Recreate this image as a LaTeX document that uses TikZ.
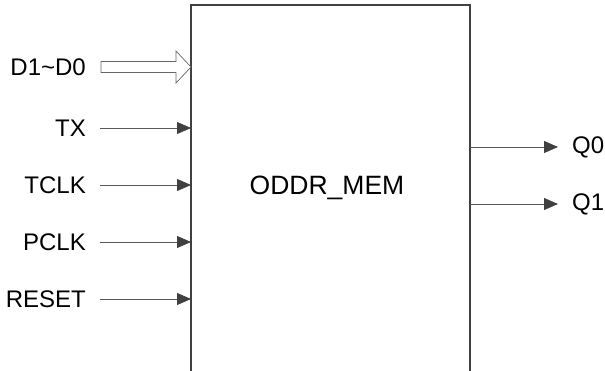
\documentclass[tikz,border=0pt]{standalone}
\usepackage{fontspec}
\setmainfont{Liberation Sans}
\usetikzlibrary{arrows.meta}

\tikzset{
    pin/.style={font=\fontsize{24}{28}\selectfont, inner sep=0pt},
    sig/.style={draw=black!65, line width=0.9pt, -{Triangle[length=14pt,width=12pt,fill=black!75,color=black!75]}},
    bus/.style={draw=black!60, line width=0.7pt, fill=white},
}

\begin{document}
\begin{tikzpicture}[x=1pt, y=-1pt]
    \useasboundingbox (0,0) rectangle (605,370);
    \clip (0,0) rectangle (605,370);

    % block, open at the bottom
    \node[draw=black!75, line width=1.2pt, outer sep=0pt, minimum width=279pt, minimum height=380pt, anchor=north west] at (191,5) (box) {};
    \node at (327,188) (name) {\fontsize{26.5}{30}\selectfont ODDR\_MEM};

    % inputs
    \node[pin, anchor=east] at (86,67) (d1d0) {D1\textasciitilde D0};
    \node[pin, anchor=east] at (86,128) (tx) {TX};
    \node[pin, anchor=east] at (86,185) (tclk) {TCLK};
    \node[pin, anchor=east] at (86,242) (pclk) {PCLK};
    \node[pin, anchor=east] at (86,299) (reset) {RESET};

    % outputs
    \node[pin, anchor=west] at (572,147) (q0) {Q0};
    \node[pin, anchor=west] at (572,204) (q1) {Q1};

    % bus arrow
    \coordinate (dtip) at (d1d0.east -| box.west);
    \draw[bus] (dtip) -- ++(-15,-16) -- ++(0,10.5) -- ++(-75,0) -- ++(0,11) -- ++(75,0) -- ++(0,10.5) -- cycle;

    \draw[sig] ([xshift=14pt]tx.east) -- (tx.east -| box.west);
    \draw[sig] ([xshift=14pt]tclk.east) -- (tclk.east -| box.west);
    \draw[sig] ([xshift=14pt]pclk.east) -- (pclk.east -| box.west);
    \draw[sig] ([xshift=14pt]reset.east) -- (reset.east -| box.west);

    \draw[sig] (q0.west -| box.east) -- ([xshift=-14pt]q0.west);
    \draw[sig] (q1.west -| box.east) -- ([xshift=-14pt]q1.west);

\end{tikzpicture}
\end{document}
